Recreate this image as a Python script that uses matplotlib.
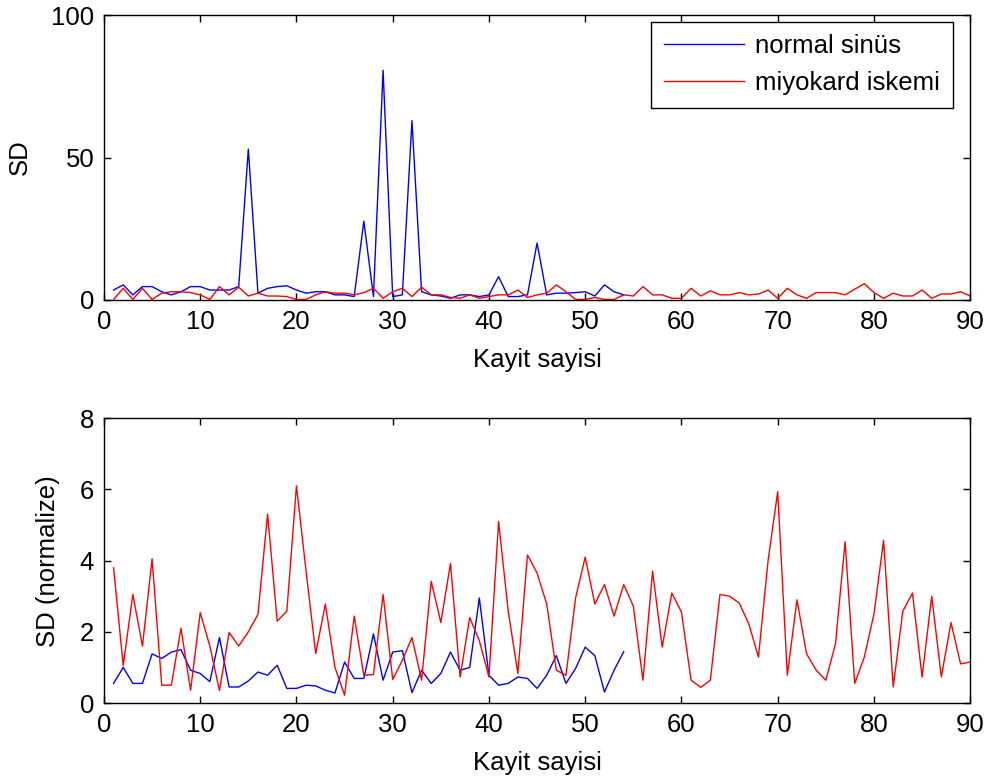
import matplotlib
matplotlib.use('Agg')
import matplotlib.pyplot as plt
import numpy as np

plt.rcParams['font.family'] = ['Liberation Sans', 'DejaVu Sans']

# SD values per record
sd_normal = [3.5, 5.3, 1.8, 4.7, 4.7, 2.9, 1.8, 2.9, 4.7, 4.7,
             3.5, 3.5, 3.5, 4.7, 53.0, 2.4, 4.1, 4.7, 5.0, 3.5,
             2.4, 2.9, 2.9, 1.8, 1.8, 1.2, 27.7, 1.2, 80.7, 1.2,
             1.8, 63.0, 2.9, 1.8, 1.4, 0.6, 1.8, 1.8, 1.2, 1.8,
             8.2, 1.2, 1.2, 1.8, 20.0, 1.8, 2.4, 2.4, 2.6, 2.9,
             1.4, 5.3, 2.9, 1.8]
sd_iskemi = [0.2, 4.1, 0.2, 4.1, 0.2, 2.4, 2.9, 2.9, 2.6, 1.8,
             0.2, 4.7, 1.8, 4.5, 1.4, 2.4, 1.4, 1.4, 1.2, 0.2,
             0.2, 1.8, 2.9, 2.4, 2.4, 1.8, 2.6, 4.1, 0.6, 2.9,
             4.1, 1.2, 4.5, 1.8, 1.8, 0.9, 0.6, 1.8, 0.6, 1.2,
             1.8, 1.8, 3.5, 0.9, 1.8, 2.4, 5.3, 2.9, 0.2, 0.2,
             0.9, 0.2, 0.2, 1.8, 1.4, 4.7, 1.8, 1.8, 0.6, 0.6,
             4.1, 1.4, 3.2, 1.8, 1.8, 2.6, 1.8, 2.1, 3.5, 0.6,
             4.1, 1.8, 0.6, 2.6, 2.6, 2.6, 1.8, 3.8, 5.7, 2.6,
             0.6, 2.4, 1.4, 1.4, 3.5, 0.6, 2.1, 2.1, 2.9, 1.4]

# normalized SD values
nsd_normal = [0.55, 1.0, 0.55, 0.55, 1.38, 1.25, 1.43, 1.5, 0.92, 0.83,
              0.6, 1.84, 0.45, 0.45, 0.62, 0.87, 0.78, 1.06, 0.41, 0.41,
              0.5, 0.48, 0.36, 0.28, 1.15, 0.69, 0.69, 1.94, 0.64, 1.43,
              1.47, 0.29, 0.92, 0.55, 0.83, 1.43, 0.92, 1.0, 2.95, 0.78,
              0.5, 0.55, 0.73, 0.69, 0.41, 0.78, 1.33, 0.55, 0.97, 1.57,
              1.33, 0.31, 0.92, 1.44]
nsd_iskemi = [3.8, 1.05, 3.05, 1.6, 4.05, 0.5, 0.5, 2.1, 0.36, 2.54,
              1.6, 0.35, 1.98, 1.6, 2.0, 2.49, 5.31, 2.3, 2.58, 6.1,
              3.7, 1.39, 2.78, 1.0, 0.22, 2.44, 0.78, 0.8, 3.05, 0.66,
              1.2, 1.84, 0.64, 3.42, 2.26, 3.92, 0.73, 2.4, 1.75, 0.73,
              5.1, 2.58, 0.83, 4.16, 3.65, 2.78, 0.92, 0.78, 2.95, 4.1,
              2.78, 3.33, 2.44, 3.33, 2.72, 0.64, 3.7, 1.57, 3.09, 2.55,
              0.64, 0.44, 0.64, 3.05, 3.0, 2.81, 2.22, 1.29, 4.0, 5.94,
              0.78, 2.9, 1.38, 0.92, 0.64, 1.66, 4.53, 0.55, 1.29, 2.5,
              4.57, 0.45, 2.58, 3.09, 0.73, 3.0, 0.73, 2.26, 1.1, 1.15]

x_normal = np.arange(1, len(sd_normal) + 1)
x_iskemi = np.arange(1, len(sd_iskemi) + 1)

fs = 18.5

fig = plt.figure(figsize=(9.9, 7.78), dpi=100)
ax1 = fig.add_axes([0.105, 0.6144, 0.875, 0.366])
ax2 = fig.add_axes([0.105, 0.0964, 0.875, 0.366])

ax1.plot(x_normal, sd_normal, color='b', lw=1.0, label='normal sinüs')
ax1.plot(x_iskemi, sd_iskemi, color='r', lw=1.0, label='miyokard iskemi')
ax1.set_ylim(0, 100)
ax1.set_yticks([0, 50, 100])
ax1.set_ylabel('SD', fontsize=fs, labelpad=14)
leg = ax1.legend(loc='upper right', bbox_to_anchor=(0.980, 0.978),
                 borderaxespad=0, fontsize=fs, fancybox=False,
                 edgecolor='k', framealpha=1, handlelength=3.1,
                 handletextpad=0.45, borderpad=0.5, labelspacing=0.5)
leg.get_frame().set_linewidth(1.0)

ax2.plot(x_normal, nsd_normal, color='b', lw=1.0)
ax2.plot(x_iskemi, nsd_iskemi, color='r', lw=1.0)
ax2.set_ylim(0, 8)
ax2.set_yticks([0, 2, 4, 6, 8])
ax2.set_ylabel('SD (normalize)', fontsize=fs, labelpad=14)

for ax in (ax1, ax2):
    ax.set_xlim(0, 90)
    ax.set_xticks(range(0, 91, 10))
    ax.set_xlabel('Kayit sayisi', fontsize=fs, labelpad=10)
    ax.tick_params(direction='in', top=True, right=True, length=5,
                   width=1, labelsize=fs, pad=7)
    for s in ax.spines.values():
        s.set_linewidth(1.0)

fig.savefig('out.png', dpi=100)
